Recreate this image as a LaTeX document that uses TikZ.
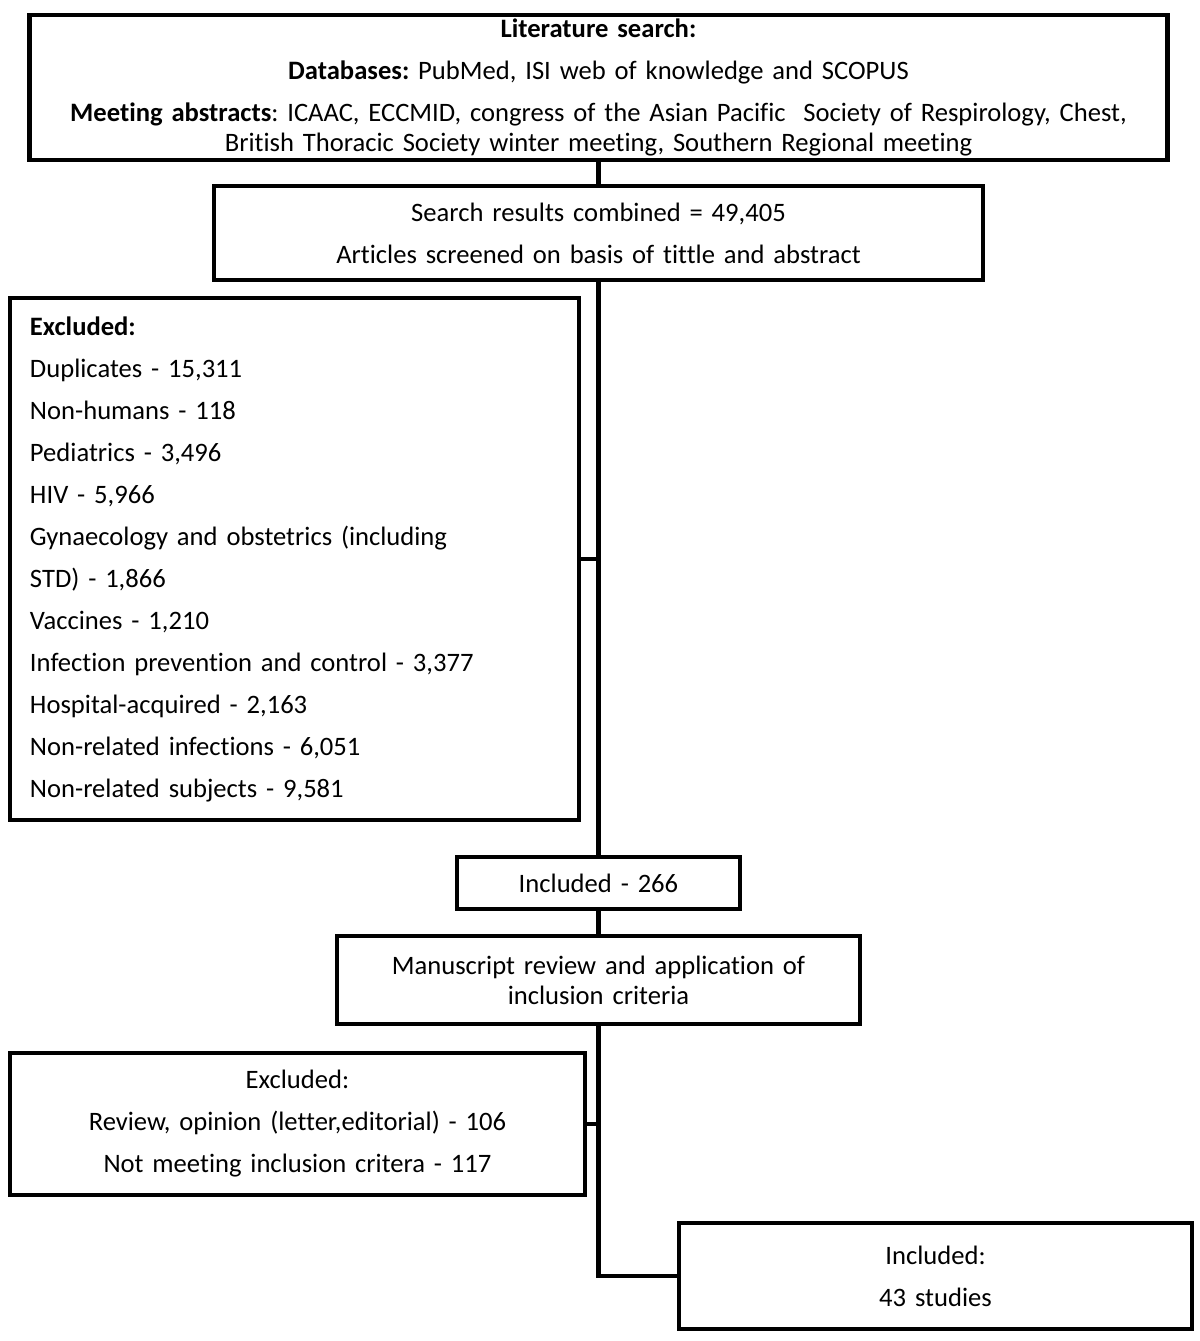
\documentclass[tikz,border=0pt]{standalone}
\usepackage{fontspec}
\setmainfont{Carlito}[Ligatures=NoCommon]
\frenchspacing
\begin{document}
\begin{tikzpicture}[x=0.5pt,y=-0.5pt]

    \def\lw{2.2pt}
    \def\gap{6pt}
    \tikzset{
        box/.style={draw, line width=\lw, fill=white, inner sep=0pt, align=center, font=\fontsize{13.3}{15}\selectfont},
        link/.style={line width=\lw}
    }

    \useasboundingbox (0,0) rectangle (1200,1341);

    \node [box, minimum width=569pt, minimum height=72.5pt, text width=560pt] (lit) at (598.5,87.5)
        {\textbf{Literature search:}\\[\gap]
         \textbf{Databases:} PubMed, ISI web of knowledge and SCOPUS\\[\gap]
         \textbf{Meeting abstracts}: ICAAC, ECCMID, congress of the Asian Pacific~ Society of Respirology, Chest,\\
         British Thoracic Society winter meeting, Southern Regional meeting};

    \node [box, minimum width=384.5pt, minimum height=47pt, text width=370pt] (search) at (598.5,233)
        {Search results combined = 49,405\\[\gap]
         Articles screened on basis of tittle and abstract};

    \node [box, align=left, inner xsep=10pt, minimum width=284.5pt, minimum height=261pt, text width=264.5pt] (excl) at (294.5,559)
        {\textbf{Excluded:}\\[\gap]
         Duplicates - 15,311\\[\gap]
         Non-humans - 118\\[\gap]
         Pediatrics - 3,496\\[\gap]
         HIV - 5,966\\[\gap]
         Gynaecology and obstetrics (including\\[\gap]
         STD) - 1,866\\[\gap]
         Vaccines - 1,210\\[\gap]
         Infection prevention and control - 3,377\\[\gap]
         Hospital-acquired - 2,163\\[\gap]
         Non-related infections - 6,051\\[\gap]
         Non-related subjects - 9,581};

    \node [box, minimum width=141.5pt, minimum height=26pt, text width=130pt] (incl) at (598.5,883) {Included - 266};

    \node [box, minimum width=261.5pt, minimum height=44pt, text width=250pt] (manu) at (598.5,980)
        {Manuscript review and application of\\ inclusion criteria};

    \node [box, minimum width=287.5pt, minimum height=71pt, text width=280pt] (excl2) at (297.5,1124)
        {Excluded:\\[\gap]
         Review, opinion (letter,editorial) - 106\\[\gap]
         Not meeting inclusion critera - 117};

    \node [box, minimum width=256.5pt, minimum height=53pt, text width=245pt] (final) at (935.5,1276)
        {Included:\\[\gap]
         43 studies};

    \draw[link] (lit.south) -- (search.north);
    \draw[link] (search.south) -- (incl.north);
    \draw[link] (incl.south) -- (manu.north);
    \draw[link] (manu.south) |- (final.west);
    \draw[link] (excl.east) -- (excl.east -| search.south);
    \draw[link] (excl2.east) -- (excl2.east -| manu.south);

\end{tikzpicture}
\end{document}
